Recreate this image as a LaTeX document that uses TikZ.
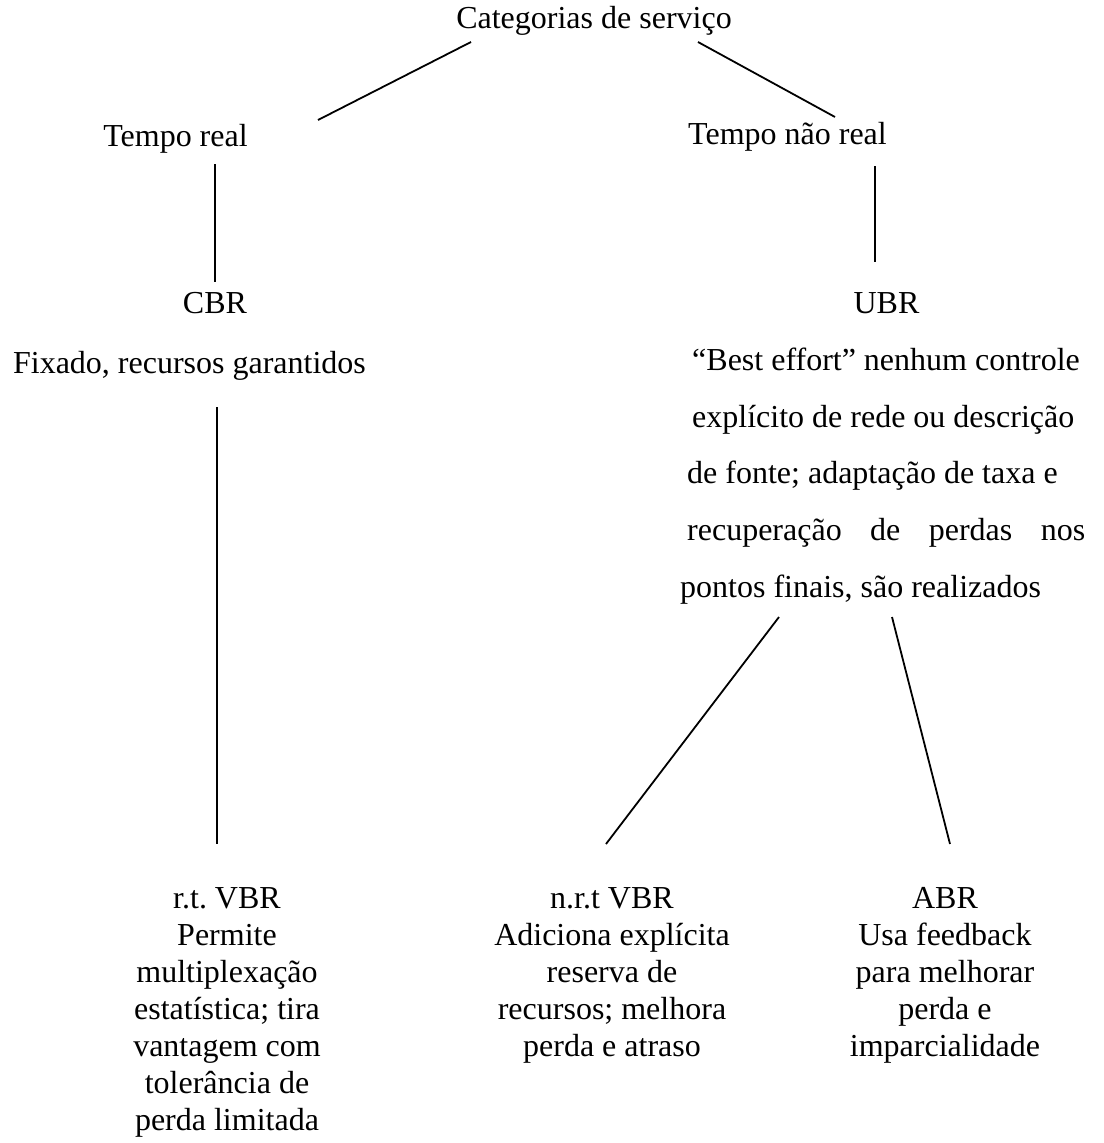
\documentclass[tikz,border=0pt]{standalone}
\usepackage{fontspec}
\setmainfont{Liberation Serif}
\frenchspacing
\begin{document}
\begin{tikzpicture}[x=1pt,y=-1pt,
  lbl/.style={inner sep=0pt, font=\fontsize{32}{37}\selectfont},
  blk/.style={lbl, align=center, anchor=north},
  link/.style={line width=1.8pt}]
\useasboundingbox (0,0) rectangle (1103,1143);

% category labels
\node[lbl, anchor=base] (root) at (594,28) {Categorias de serviço};
\node[lbl, anchor=base] (rt)   at (175.5,146) {Tempo real};
\node[lbl, anchor=base] (nrt)  at (787.5,144) {Tempo não real};
\node[lbl, anchor=base] (cbr)  at (215,313) {CBR};
\node[lbl, anchor=base] (cbrd) at (189.5,373) {Fixado, recursos garantidos};
\node[lbl, anchor=base] (ubr)  at (886.5,313) {UBR};

% UBR description, one line per node
\node[lbl, anchor=base west] (ubr1) at (692,370) {“Best effort” nenhum controle};
\node[lbl, anchor=base west] (ubr2) at (692,427) {explícito de rede ou descrição};
\node[lbl, anchor=base west] (ubr3) at (687,483) {de fonte; adaptação de taxa e};
\node[lbl, anchor=base west] (ubr4) at (687,540) {\makebox[398pt][s]{recuperação de perdas nos}};
\node[lbl, anchor=base west] (ubr5) at (680,597) {pontos finais, são realizados};

% leaf categories
\node[blk] (rtvbr) at (227,887) {r.t. VBR\\Permite\\multiplexação\\estatística; tira\\vantagem com\\tolerância de\\perda limitada};
\node[blk] (nrtvbr) at (612,887) {n.r.t VBR\\Adiciona explícita\\reserva de\\recursos; melhora\\perda e atraso};
\node[blk] (abr) at (945,887) {ABR\\Usa feedback\\para melhorar\\perda e\\imparcialidade};

% connector end points
\coordinate (c1a) at (318,120);  \coordinate (c1b) at (471,42);
\coordinate (c2a) at (698,42);   \coordinate (c2b) at (835,117);
\coordinate (c3a) at (215,164);  \coordinate (c3b) at (215,282);
\coordinate (c4a) at (217,407);  \coordinate (c4b) at (217,844);
\coordinate (c5a) at (875,166);  \coordinate (c5b) at (875,262);
\coordinate (c6a) at (779,617);  \coordinate (c6b) at (606,844);
\coordinate (c7a) at (892,617);  \coordinate (c7b) at (950,844);

\draw[link] (c1a) -- (c1b);
\draw[link] (c2a) -- (c2b);
\draw[link] (c3a) -- (c3b);
\draw[link] (c4a) -- (c4b);
\draw[link] (c5a) -- (c5b);
\draw[link] (c6a) -- (c6b);
\draw[link] (c7a) -- (c7b);
\end{tikzpicture}
\end{document}
